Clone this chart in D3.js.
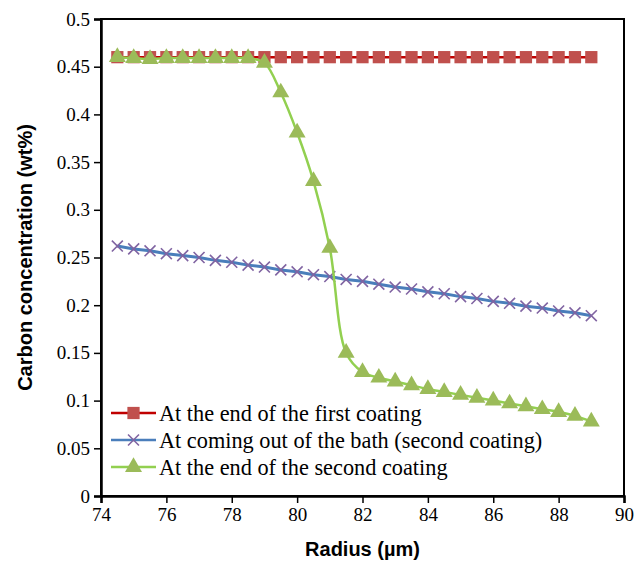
<!DOCTYPE html>
<html>
<head>
<meta charset="utf-8">
<script src="https://cdn.jsdelivr.net/npm/d3@7"></script>
<style>
  body { margin: 0; background: #fff; }
  svg text { fill: #000; }
  .serif { font-family: 'Liberation Serif', 'Times New Roman', Times, serif; }
  .sansb { font-family: 'Liberation Sans', Arial, Helvetica, sans-serif; font-weight: bold; }
</style>
</head>
<body>
<div id="chart"></div>
<script>
var radius = [74.5, 75, 75.5, 76, 76.5, 77, 77.5, 78, 78.5, 79, 79.5, 80, 80.5, 81, 81.5,
              82, 82.5, 83, 83.5, 84, 84.5, 85, 85.5, 86, 86.5, 87, 87.5, 88, 88.5, 89];

var firstCoating = [0.46, 0.46, 0.46, 0.46, 0.46, 0.46, 0.46, 0.46, 0.46, 0.46, 0.46, 0.46, 0.46, 0.46, 0.46,
                    0.46, 0.46, 0.46, 0.46, 0.46, 0.46, 0.46, 0.46, 0.46, 0.46, 0.46, 0.46, 0.46, 0.46, 0.46];

var outOfBath = [0.262, 0.259, 0.257, 0.254, 0.252, 0.250, 0.247, 0.245, 0.242, 0.240, 0.237, 0.235, 0.232, 0.230, 0.227,
                 0.225, 0.222, 0.219, 0.217, 0.214, 0.212, 0.209, 0.207, 0.204, 0.202, 0.199, 0.197, 0.194, 0.192, 0.189];

var secondCoating = [0.46, 0.459, 0.458, 0.459, 0.459, 0.459, 0.459, 0.459, 0.459, 0.454, 0.423, 0.381, 0.330, 0.260, 0.150,
                     0.130, 0.124, 0.120, 0.116, 0.112, 0.109, 0.106, 0.103, 0.100, 0.097, 0.094, 0.091, 0.088, 0.084, 0.078];

var xTicks = [74, 76, 78, 80, 82, 84, 86, 88, 90];
var yTicks = [0, 0.05, 0.1, 0.15, 0.2, 0.25, 0.3, 0.35, 0.4, 0.45, 0.5];

var seriesNames = ['At the end of the first coating',
                   'At coming out of the bath (second coating)',
                   'At the end of the second coating'];

var W = 644, H = 562;
var margin = { top: 19, right: 20, bottom: 66, left: 101 };
var width = W - margin.left - margin.right,
    height = H - margin.top - margin.bottom;

var svg = d3.select('#chart').append('svg')
  .attr('width', W)
  .attr('height', H);

var g = svg.append('g')
  .attr('transform', 'translate(' + margin.left + ',' + margin.top + ')');

var xScale = d3.scaleLinear().domain([74, 90]).range([0, width]);
var yScale = d3.scaleLinear().domain([0, 0.5]).range([height, 0]);

// box around plot
g.append('rect')
  .attr('x', 0).attr('y', 0)
  .attr('width', width).attr('height', height)
  .attr('fill', 'none')
  .attr('stroke', '#000')
  .attr('stroke-width', 2);

var yAxis = d3.axisLeft(yScale)
  .tickValues(yTicks)
  .tickSize(7)
  .tickPadding(4)
  .tickFormat(function(d) { return String(+d.toFixed(2)); });

var xAxis = d3.axisBottom(xScale)
  .tickValues(xTicks)
  .tickSize(7)
  .tickPadding(5)
  .tickFormat(d3.format('d'));

var yg = g.append('g').call(yAxis);
var xg = g.append('g').attr('transform', 'translate(0,' + height + ')').call(xAxis);

[yg, xg].forEach(function(ax) {
  ax.attr('font-family', null).attr('font-size', null);
  ax.select('.domain').attr('stroke', '#000').attr('stroke-width', 2.5);
  ax.selectAll('line').attr('stroke', '#000').attr('stroke-width', 1.5);
  ax.selectAll('text')
    .attr('class', 'serif')
    .style('font-size', '19px')
    .attr('fill', '#000');
});

var redLine = '#c00000', redMark = '#c0504d';
var blueLine = '#4a7ebb', xMark = '#8064a2';
var greenLine = '#92d050', greenMark = '#9bbb59';

function pts(vals) {
  return radius.map(function(r, i) { return [r, vals[i]]; });
}

var straight = d3.line()
  .x(function(d) { return xScale(d[0]); })
  .y(function(d) { return yScale(d[1]); });

var smooth = d3.line()
  .curve(d3.curveCatmullRom.alpha(0.5))
  .x(function(d) { return xScale(d[0]); })
  .y(function(d) { return yScale(d[1]); });

// series 1
g.append('path')
  .attr('d', straight(pts(firstCoating)))
  .attr('fill', 'none').attr('stroke', redLine).attr('stroke-width', 2.5);

var sq = d3.symbol().type(d3.symbolSquare).size(150);
g.selectAll('.sq').data(pts(firstCoating)).enter().append('path')
  .attr('d', sq)
  .attr('transform', function(d) { return 'translate(' + xScale(d[0]) + ',' + yScale(d[1]) + ')'; })
  .attr('fill', redMark);

// series 2
g.append('path')
  .attr('d', straight(pts(outOfBath)))
  .attr('fill', 'none').attr('stroke', blueLine).attr('stroke-width', 3);

var xs = d3.symbol().type(d3.symbolX).size(80);
g.selectAll('.xm').data(pts(outOfBath)).enter().append('path')
  .attr('d', xs)
  .attr('transform', function(d) { return 'translate(' + xScale(d[0]) + ',' + yScale(d[1]) + ')'; })
  .attr('fill', 'none')
  .attr('stroke', xMark)
  .attr('stroke-width', 1.6);

// series 3
g.append('path')
  .attr('d', smooth(pts(secondCoating)))
  .attr('fill', 'none').attr('stroke', greenLine).attr('stroke-width', 2.5);

var tri = d3.symbol().type(d3.symbolTriangle).size(125);
g.selectAll('.tri').data(pts(secondCoating)).enter().append('path')
  .attr('d', tri)
  .attr('transform', function(d) { return 'translate(' + xScale(d[0]) + ',' + yScale(d[1]) + ')'; })
  .attr('fill', greenMark);

// legend
var legend = g.append('g').attr('transform', 'translate(10,' + (413 - margin.top) + ')');
var legendItems = [
  { name: seriesNames[0], line: redLine, sym: sq, fill: redMark, stroke: 'none', sw: 0 },
  { name: seriesNames[1], line: blueLine, sym: xs, fill: 'none', stroke: xMark, sw: 1.6 },
  { name: seriesNames[2], line: greenLine, sym: tri, fill: greenMark, stroke: 'none', sw: 0 }
];
legendItems.forEach(function(item, i) {
  var row = legend.append('g').attr('transform', 'translate(0,' + (i * 27) + ')');
  row.append('line')
    .attr('x1', 0).attr('x2', 45).attr('y1', 0).attr('y2', 0)
    .attr('stroke', item.line).attr('stroke-width', 2.5);
  row.append('path')
    .attr('d', item.sym)
    .attr('transform', 'translate(22.5,0)')
    .attr('fill', item.fill)
    .attr('stroke', item.stroke)
    .attr('stroke-width', item.sw);
  row.append('text')
    .attr('class', 'serif')
    .attr('x', 48).attr('y', 0).attr('dy', '0.35em')
    .style('font-size', '22.3px')
    .text(item.name);
});

// axis titles
svg.append('text')
  .attr('class', 'sansb')
  .attr('x', margin.left + width / 2)
  .attr('y', 556)
  .attr('text-anchor', 'middle')
  .style('font-size', '20px')
  .text('Radius (\u00b5m)');

svg.append('text')
  .attr('class', 'sansb')
  .attr('transform', 'translate(32,' + (margin.top + height / 2) + ') rotate(-90)')
  .attr('text-anchor', 'middle')
  .style('font-size', '20px')
  .text('Carbon concentration (wt%)');
</script>
</body>
</html>
